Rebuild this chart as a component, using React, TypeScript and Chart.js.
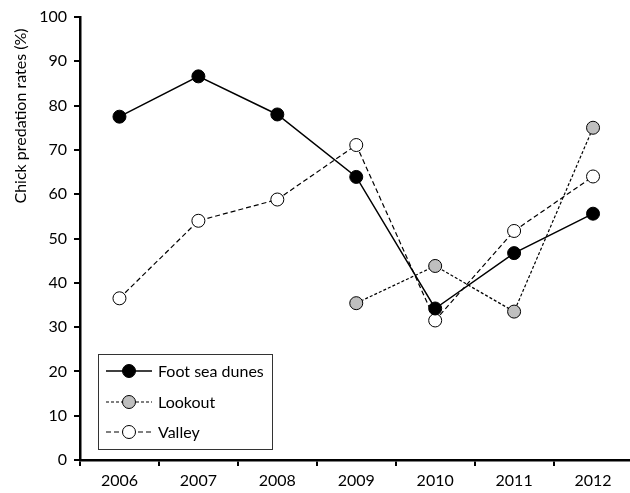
import React, { useEffect, useRef } from "react";
import { Chart, registerables } from "chart.js";
Chart.register(...registerables);

const years = ["2006", "2007", "2008", "2009", "2010", "2011", "2012"];
const footSeaDunes = [77.5, 86.6, 78.0, 63.9, 34.2, 46.7, 55.6];
const lookout = [null, null, null, 35.4, 43.8, 33.5, 75.0];
const valley = [36.5, 54.0, 58.8, 71.1, 31.5, 51.7, 64.0];
const yTitle = "Chick predation rates (%)";

const FONT = "Lato, 'Open Sans', sans-serif";
const FS = 16;

const overlayPlugin = {
  id: "overlay",
  afterDraw(chart: any) {
    const ctx = chart.ctx;
    ctx.save();
    ctx.fillStyle = "#000";
    ctx.font = `${FS}px ${FONT}`;
    ctx.textAlign = "center";
    ctx.textBaseline = "middle";
    ctx.translate(21, 116);
    ctx.rotate(-Math.PI / 2);
    ctx.fillText(yTitle, 0, 0);
    ctx.restore();

    ctx.save();
    const bx = 98.5, by = 354.5, bw = 174, bh = 95;
    ctx.fillStyle = "#fff";
    ctx.fillRect(bx, by, bw, bh);
    ctx.strokeStyle = "#333";
    ctx.lineWidth = 1;
    ctx.strokeRect(bx, by, bw, bh);
    const rows = [371, 402, 432];
    chart.data.datasets.forEach((ds: any, i: number) => {
      const y = rows[i];
      ctx.strokeStyle = "#000";
      ctx.lineWidth = ds.borderWidth;
      ctx.setLineDash(ds.borderDash || []);
      ctx.beginPath();
      ctx.moveTo(106, y);
      ctx.lineTo(152, y);
      ctx.stroke();
      ctx.setLineDash([]);
      ctx.beginPath();
      ctx.arc(129, y, ds.pointRadius, 0, Math.PI * 2);
      ctx.fillStyle = ds.pointBackgroundColor;
      ctx.fill();
      ctx.lineWidth = 1;
      ctx.strokeStyle = "#000";
      ctx.stroke();
      ctx.fillStyle = "#000";
      ctx.font = `${FS}px ${FONT}`;
      ctx.textAlign = "left";
      ctx.textBaseline = "middle";
      ctx.fillText(ds.label, 158, y + 1);
    });
    ctx.restore();
  },
};

export default function App() {
  const ref = useRef<HTMLCanvasElement>(null);
  useEffect(() => {
    if (!ref.current) return;
    const chart = new Chart(ref.current, {
      type: "line",
      data: {
        labels: years,
        datasets: [
          {
            label: "Foot sea dunes",
            data: footSeaDunes,
            borderColor: "#000",
            borderWidth: 1.5,
            pointRadius: 6.5,
            pointBackgroundColor: "#000",
            pointBorderColor: "#000",
            pointBorderWidth: 1,
            tension: 0,
          },
          {
            label: "Lookout",
            data: lookout as any,
            borderColor: "#000",
            borderWidth: 1.2,
            borderDash: [3, 2],
            pointRadius: 6.5,
            pointBackgroundColor: "#bfbfbf",
            pointBorderColor: "#000",
            pointBorderWidth: 1,
            tension: 0,
          },
          {
            label: "Valley",
            data: valley,
            borderColor: "#000",
            borderWidth: 1.2,
            borderDash: [5, 3],
            pointRadius: 6.5,
            pointBackgroundColor: "#fff",
            pointBorderColor: "#000",
            pointBorderWidth: 1,
            tension: 0,
          },
        ],
      },
      options: {
        animation: false,
        responsive: false,
        devicePixelRatio: 1,
        layout: { padding: { left: 0, top: 17, right: 4, bottom: 0 } },
        plugins: {
          legend: { display: false },
          tooltip: { enabled: false },
        },
        scales: {
          x: {
            type: "category",
            offset: true,
            grid: {
              offset: true,
              drawOnChartArea: false,
              drawTicks: true,
              tickLength: 6,
              color: "#000",
              lineWidth: 2,
            },
            border: { display: true, color: "#000", width: 2.5 },
            ticks: {
              color: "#000",
              font: { family: FONT, size: FS },
              padding: 5,
              maxRotation: 0,
            },
            afterFit(scale: any) {
              scale.height = 33;
            },
          },
          y: {
            min: 0,
            max: 100,
            ticks: {
              stepSize: 10,
              color: "#000",
              font: { family: FONT, size: FS },
              padding: 7,
            },
            grid: {
              drawOnChartArea: false,
              drawTicks: true,
              tickLength: 6,
              color: "#000",
              lineWidth: 2,
            },
            border: { display: true, color: "#000", width: 2.5 },
            afterFit(scale: any) {
              scale.width = 80;
            },
          },
        },
      },
      plugins: [overlayPlugin],
    } as any);
    return () => chart.destroy();
  }, []);
  return (
    <div
      style={{
        position: "fixed",
        left: 0,
        top: 0,
        width: 630,
        height: 493,
        overflow: "hidden",
        background: "#fff",
      }}
    >
      <canvas ref={ref} width={640} height={493} style={{ display: "block" }} />
    </div>
  );
}
